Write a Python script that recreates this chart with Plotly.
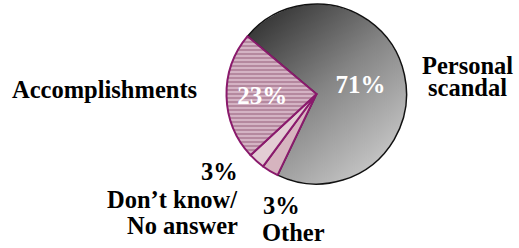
import base64
import plotly.graph_objects as go

# Data
labels = ["Personal scandal", "Other", "Don't know/No answer", "Accomplishments"]
values = [71, 3, 3, 23]
colors = ["rgba(0,0,0,0)", "#d6b4bf", "#e3cdd4", "#c89db4"]
line_colors = ["#111111", "#8a1a6c", "#8a1a6c", "#8a1a6c"]

inside_text = [f"{v}%" if v > 10 else "" for v in values]

W, H = 519, 248
cx, cy, r = 316.5, 94, 90

# grey gradient disc shown through the (transparent) largest slice
svg = (
    '<svg xmlns="http://www.w3.org/2000/svg" viewBox="0 0 100 100" preserveAspectRatio="none">'
    '<defs><linearGradient id="g" x1="0.12" y1="0.05" x2="0.88" y2="0.95">'
    '<stop offset="0" stop-color="#2c2c2c"/><stop offset="0.5" stop-color="#858585"/>'
    '<stop offset="1" stop-color="#cccccc"/></linearGradient></defs>'
    '<circle cx="50" cy="50" r="49.8" fill="url(#g)"/></svg>'
)
src = "data:image/svg+xml;base64," + base64.b64encode(svg.encode()).decode()

fig = go.Figure(go.Pie(
    labels=labels,
    values=values,
    sort=False,
    direction="clockwise",
    rotation=-50,
    text=inside_text,
    textinfo="text",
    textposition="inside",
    insidetextorientation="horizontal",
    textfont=dict(family="Liberation Serif", size=25, color="white", weight="bold"),
    marker=dict(
        colors=colors,
        line=dict(color=line_colors, width=[1.5, 2, 2, 2]),
        pattern=dict(shape=["", "", "", "-"], fgcolor="#b2839b", bgcolor="#d4b3c4",
                     size=4, solidity=0.45, fillmode="replace"),
    ),
    domain=dict(x=[(cx - r) / W, (cx + r) / W], y=[(H - cy - r) / H, (H - cy + r) / H]),
    hoverinfo="skip",
    showlegend=False,
))

fig.add_layout_image(source=src, xref="paper", yref="paper",
                     x=(cx - r) / W, y=(H - cy + r) / H, sizex=2 * r / W, sizey=2 * r / H,
                     xanchor="left", yanchor="top", sizing="stretch", layer="below")

font = dict(family="Liberation Serif", size=24.5, color="black", weight="bold")
def ann(text, x, y, xanchor="center"):
    fig.add_annotation(text=text, x=x / W, y=1 - y / H, xref="paper", yref="paper",
                       xanchor=xanchor, yanchor="middle", showarrow=False, font=font)

ann("Accomplishments", 199, 89, "right")
ann("Personal", 467, 65)
ann("scandal", 467, 87)
ann("3%", 240, 171, "right")
ann("Don\u2019t know/", 240, 199, "right")
ann("No answer", 240, 225, "right")
ann("3%", 281, 205)
ann("Other", 293, 232)

fig.update_layout(width=W, height=H, margin=dict(l=0, r=0, t=0, b=0),
                  paper_bgcolor="white", plot_bgcolor="white")
fig.write_html("out.html", config={"displayModeBar": False},
               post_script="document.body.style.margin='0';document.body.style.overflow='hidden';")
